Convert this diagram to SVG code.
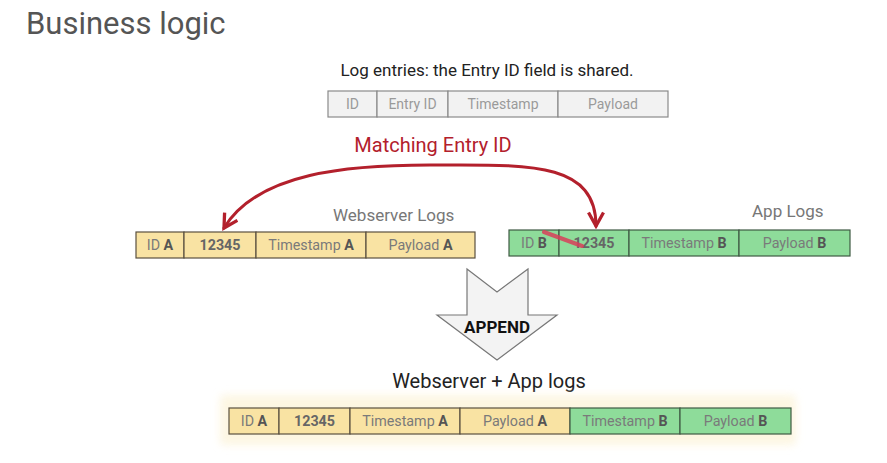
<svg xmlns="http://www.w3.org/2000/svg" width="887" height="463" viewBox="0 0 887 463">
  <defs>
    <style>
      text { font-family: Roboto, "Liberation Sans", sans-serif; }
      .title { font-size: 31px; fill: #555; }
      .caption { font-size: 17px; fill: #222; }
      .label { font-size: 17px; fill: #777; }
      .match { font-size: 20px; fill: #b3202c; }
      .cell { font-size: 14.3px; fill: #7a7a7a; text-anchor: middle; }
      .cell tspan.b { font-weight: bold; fill: #555; }
      .num { font-weight: bold; fill: #666; }
      .gray { fill: #f2f2f2; stroke: #8a8a8a; stroke-width: 1.2; }
      .gray-t { font-size: 14px; fill: #9a9a9a; text-anchor: middle; }
      .yel { fill: #f9e3a3; stroke: #5a5040; stroke-width: 1.2; }
      .grn { fill: #8edc9a; stroke: #3f5a44; stroke-width: 1.2; }
      .link { fill: none; stroke: #b3202c; stroke-width: 3; stroke-linecap: round; }
    </style>
    <marker id="head" viewBox="0 0 12 12" refX="10" refY="6" markerWidth="6" markerHeight="6" orient="auto-start-reverse" markerUnits="strokeWidth">
      <path d="M1 1 L10 6 L1 11" fill="none" stroke="#b3202c" stroke-width="2.2" stroke-linejoin="miter"/>
    </marker>
    <filter id="soft" x="-5%" y="-30%" width="110%" height="160%">
      <feGaussianBlur stdDeviation="4"/>
    </filter>
  </defs>

  <rect width="887" height="463" fill="#ffffff"/>

  <text class="title" x="26" y="34">Business logic</text>

  <!-- generic log entry layout -->
  <g id="schema">
    <text class="caption" x="487" y="76" text-anchor="middle">Log entries: the Entry ID field is shared.</text>
    <rect class="gray" x="328" y="91" width="49" height="26"/>
    <rect class="gray" x="377" y="91" width="71" height="26"/>
    <rect class="gray" x="448" y="91" width="110" height="26"/>
    <rect class="gray" x="558" y="91" width="110" height="26"/>
    <text class="gray-t" x="352.5" y="109">ID</text>
    <text class="gray-t" x="412.5" y="109">Entry ID</text>
    <text class="gray-t" x="503" y="109">Timestamp</text>
    <text class="gray-t" x="613" y="109">Payload</text>
  </g>

  <!-- webserver log entry -->
  <g id="webserver">
    <text class="label" x="333" y="221">Webserver Logs</text>
    <rect class="yel" x="136" y="232" width="48" height="26"/>
    <rect class="yel" x="184" y="232" width="72" height="26"/>
    <rect class="yel" x="256" y="232" width="110" height="26"/>
    <rect class="yel" x="366" y="232" width="109" height="26"/>
    <text class="cell" x="160" y="250">ID <tspan class="b">A</tspan></text>
    <text class="cell num" x="220" y="250">12345</text>
    <text class="cell" x="311" y="250">Timestamp <tspan class="b">A</tspan></text>
    <text class="cell" x="420.5" y="250">Payload <tspan class="b">A</tspan></text>
  </g>

  <!-- app log entry -->
  <g id="app">
    <text class="label" x="752" y="217">App Logs</text>
    <rect class="grn" x="509" y="230" width="50" height="26"/>
    <rect class="grn" x="559" y="230" width="70" height="26"/>
    <rect class="grn" x="629" y="230" width="110" height="26"/>
    <rect class="grn" x="739" y="230" width="111" height="26"/>
    <text class="cell" x="534" y="248">ID <tspan class="b">B</tspan></text>
    <text class="cell num" x="594" y="248">12345</text>
    <text class="cell" x="684" y="248">Timestamp <tspan class="b">B</tspan></text>
    <text class="cell" x="794.5" y="248">Payload <tspan class="b">B</tspan></text>
  </g>

  <!-- matching link between the two Entry ID cells -->
  <g id="connectors">
    <text class="match" x="433" y="152" text-anchor="middle">Matching Entry ID</text>
    <path class="link" d="M224 228 C258 172 350 165 430 165 C525 165 596 160 596 226" marker-start="url(#head)" marker-end="url(#head)"/>
    <path d="M544 232 L582 246" stroke="#d9405a" stroke-width="4" stroke-linecap="round" opacity="0.85"/>
  </g>

  <!-- append block arrow -->
  <g id="append">
    <path d="M467 269 L497 292 L528 269 L528 315 L557 315 L497 360 L437 315 L467 315 Z" fill="#f3f3f3" stroke="#777" stroke-width="1.2" stroke-linejoin="miter"/>
    <text x="497" y="333" text-anchor="middle" font-size="17" font-weight="bold" fill="#111">APPEND</text>
  </g>

  <!-- merged entry -->
  <g id="merged">
    <text x="489" y="388" text-anchor="middle" font-size="20" fill="#222">Webserver + App logs</text>
    <rect x="220" y="395" width="576" height="50" rx="4" fill="#fcf3d6" opacity="0.7" filter="url(#soft)"/>
    <rect class="yel" x="229" y="408" width="50" height="26"/>
    <rect class="yel" x="279" y="408" width="71" height="26"/>
    <rect class="yel" x="350" y="408" width="110" height="26"/>
    <rect class="yel" x="460" y="408" width="110" height="26"/>
    <rect class="grn" x="570" y="408" width="110" height="26"/>
    <rect class="grn" x="680" y="408" width="111" height="26"/>
    <text class="cell" x="254" y="426">ID <tspan class="b">A</tspan></text>
    <text class="cell num" x="314.5" y="426">12345</text>
    <text class="cell" x="405" y="426">Timestamp <tspan class="b">A</tspan></text>
    <text class="cell" x="515" y="426">Payload <tspan class="b">A</tspan></text>
    <text class="cell" x="625" y="426">Timestamp <tspan class="b">B</tspan></text>
    <text class="cell" x="735.5" y="426">Payload <tspan class="b">B</tspan></text>
  </g>
</svg>
